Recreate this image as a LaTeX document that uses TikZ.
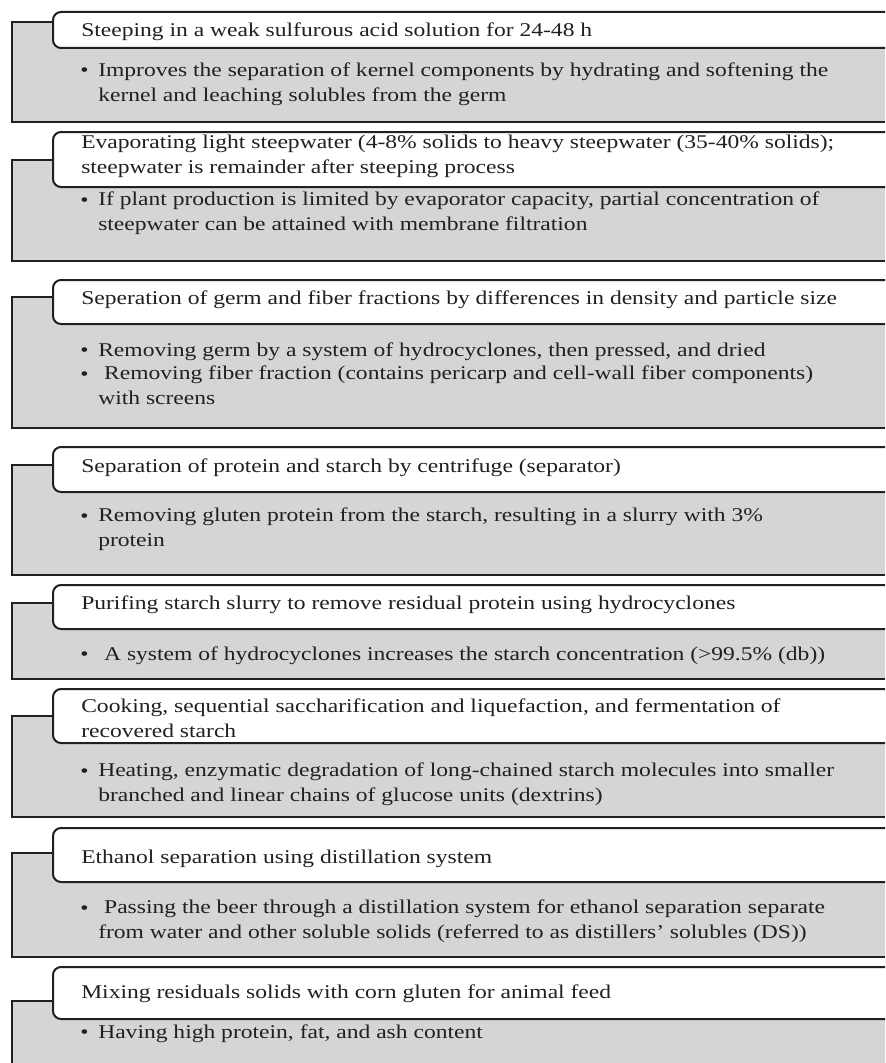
\documentclass[tikz,border=0pt]{standalone}
\usepackage{fontspec}
\setmainfont{Liberation Serif}[FakeStretch=1.21]
\definecolor{boxgray}{RGB}{212,213,215}
\definecolor{inkblack}{RGB}{35,31,32}

\begin{document}
\begin{tikzpicture}[x=0.75pt,y=0.75pt,yscale=-1,
  graybox/.style={draw=inkblack,fill=boxgray,line width=1.5},
  headbox/.style={draw=inkblack,fill=white,line width=1.5,rounded corners=6},
  txt/.style={anchor=base west,inner sep=0,align=left,text=inkblack,font=\fontsize{14.6}{18.4}\selectfont}]
\useasboundingbox (0,0) rectangle (885,1063);
\clip (0,0) rectangle (885,1063);

% boxes run out past the right edge; multi-line text nodes sit on the baseline of their last line

%Shape: Rectangle [steeping]
\draw [graybox] (885,22) -- (12,22) -- (12,122) -- (885,122);
%Rounded Rect [steeping]
\draw [headbox] (885,48) -- (53,48) -- (53,12) -- (885,12);
% Text Node
\node [txt] (steep) at (81,37) {Steeping in a weak sulfurous acid solution for 24-48 h};
\node [txt] (steepdot) at (80,77) {\textbullet};
\node [txt] (steepnote) at (98,101.5) {Improves the separation of kernel components by hydrating and softening the\\kernel and leaching solubles from the germ};

%Shape: Rectangle [evaporating]
\draw [graybox] (885,160) -- (12,160) -- (12,261) -- (885,261);
%Rounded Rect [evaporating]
\draw [headbox] (885,187) -- (53,187) -- (53,132) -- (885,132);
% Text Node
\node [txt] (evap) at (81,173.5) {Evaporating light steepwater (4-8\% solids to heavy steepwater (35-40\% solids);\\steepwater is remainder after steeping process};
\node [txt] (evapdot) at (80,206) {\textbullet};
\node [txt] (evapnote) at (98,230.5) {If plant production is limited by evaporator capacity, partial concentration of\\steepwater can be attained with membrane filtration};

%Shape: Rectangle [germ and fiber]
\draw [graybox] (885,297) -- (12,297) -- (12,428) -- (885,428);
%Rounded Rect [germ and fiber]
\draw [headbox] (885,324) -- (53,324) -- (53,280) -- (885,280);
% Text Node
\node [txt] (germ) at (81,304) {Seperation of germ and fiber fractions by differences in density and particle size};
\node [txt] (germdot) at (80,356) {\textbullet};
\node [txt] (germnote) at (98,356) {Removing germ by a system of hydrocyclones, then pressed, and dried};
\node [txt] (fiberdot) at (80,380) {\textbullet};
\node [txt] (fibernote) at (98,404.5) {\ Removing fiber fraction (contains pericarp and cell-wall fiber components)\\with screens};

%Shape: Rectangle [protein]
\draw [graybox] (885,465) -- (12,465) -- (12,575) -- (885,575);
%Rounded Rect [protein]
\draw [headbox] (885,492) -- (53,492) -- (53,447) -- (885,447);
% Text Node
\node [txt] (prot) at (81,472) {Separation of protein and starch by centrifuge (separator)};
\node [txt] (protdot) at (80,522) {\textbullet};
\node [txt] (protnote) at (98,546.5) {Removing gluten protein from the starch, resulting in a slurry with 3\%\\protein};

%Shape: Rectangle [purifying]
\draw [graybox] (885,603) -- (12,603) -- (12,679) -- (885,679);
%Rounded Rect [purifying]
\draw [headbox] (885,629) -- (53,629) -- (53,585) -- (885,585);
% Text Node
\node [txt] (puri) at (81,609) {Purifing starch slurry to remove residual protein using hydrocyclones};
\node [txt] (puridot) at (80,660) {\textbullet};
\node [txt] (purinote) at (98,660) {\ A system of hydrocyclones increases the starch concentration (>99.5\% (db))};

%Shape: Rectangle [cooking]
\draw [graybox] (885,716) -- (12,716) -- (12,817) -- (885,817);
%Rounded Rect [cooking]
\draw [headbox] (885,743) -- (53,743) -- (53,689) -- (885,689);
% Text Node
\node [txt] (cook) at (81,737.5) {Cooking, sequential saccharification and liquefaction, and fermentation of\\recovered starch};
\node [txt] (cookdot) at (80,777) {\textbullet};
\node [txt] (cooknote) at (98,801.5) {Heating, enzymatic degradation of long-chained starch molecules into smaller\\branched and linear chains of glucose units (dextrins)};

%Shape: Rectangle [ethanol]
\draw [graybox] (885,853) -- (12,853) -- (12,957) -- (885,957);
%Rounded Rect [ethanol]
\draw [headbox] (885,882) -- (53,882) -- (53,828) -- (885,828);
% Text Node
\node [txt] (etoh) at (81,863) {Ethanol separation using distillation system};
\node [txt] (etohdot) at (80,914) {\textbullet};
\node [txt] (etohnote) at (98,938.5) {\ Passing the beer through a distillation system for ethanol separation separate\\from water and other soluble solids (referred to as distillers’ solubles (DS))};

%Shape: Rectangle [feed]
\draw [graybox] (885,1001) -- (12,1001) -- (12,1080) -- (885,1080);
%Rounded Rect [feed]
\draw [headbox] (885,1019) -- (53,1019) -- (53,967) -- (885,967);
% Text Node
\node [txt] (feed) at (81,998) {Mixing residuals solids with corn gluten for animal feed};
\node [txt] (feeddot) at (80,1038) {\textbullet};
\node [txt] (feednote) at (98,1038) {Having high protein, fat, and ash content};

\end{tikzpicture}
\end{document}
